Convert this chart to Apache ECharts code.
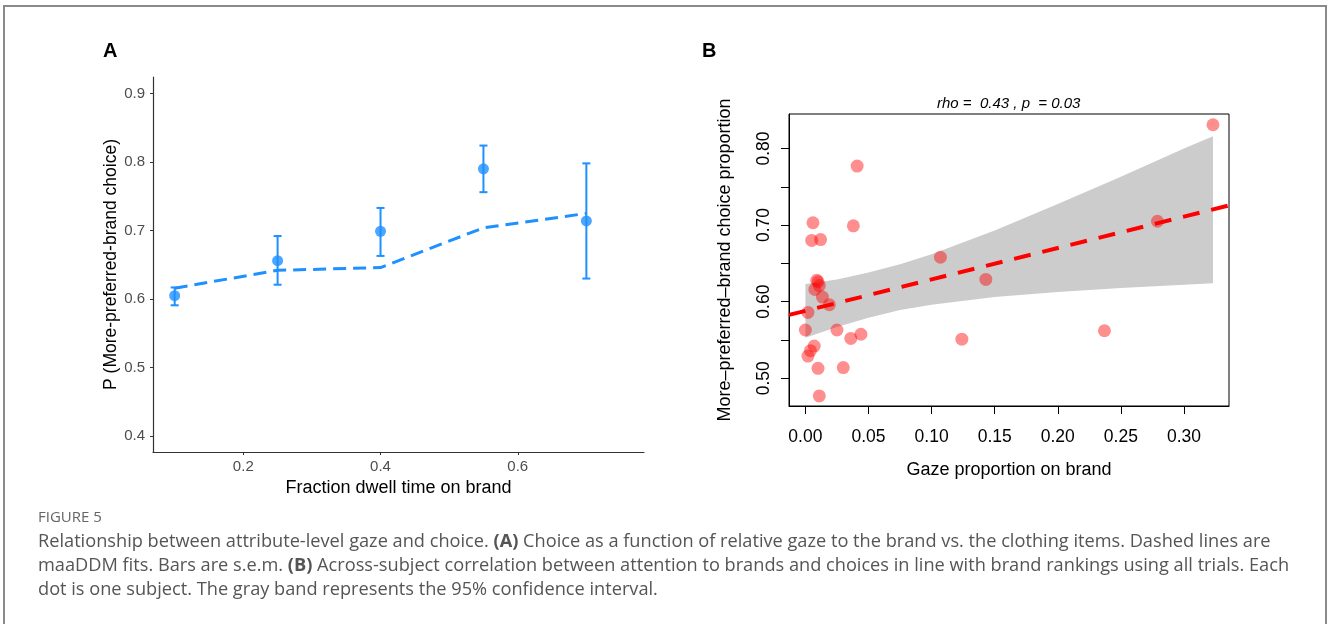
<!DOCTYPE html>
<html>
<head>
<meta charset="utf-8">
<script src="https://cdn.jsdelivr.net/npm/echarts@6/dist/echarts.min.js"></script>
<style>
  html, body { margin: 0; padding: 0; background: #fff; }
  #chart { width: 1328px; height: 624px; }
</style>
</head>
<body>
<div id="chart"></div>
<script>
// ---- Panel A: choice probability by fraction of dwell time on brand ----
const dwellBins   = [0.10, 0.25, 0.40, 0.55, 0.70];
const choiceMean  = [0.605, 0.656, 0.699, 0.790, 0.714];
const choiceLow   = [0.591, 0.621, 0.663, 0.756, 0.630];
const choiceHigh  = [0.617, 0.692, 0.733, 0.824, 0.798];
const modelFit    = [0.616, 0.642, 0.646, 0.704, 0.725];
const ticksAx     = [0.2, 0.4, 0.6];
const ticksAy     = [0.4, 0.5, 0.6, 0.7, 0.8, 0.9];

// ---- Panel B: per-subject gaze proportion vs. choice proportion ----
const gazeProp = [0.041, 0.006, 0.005, 0.012, 0.038, 0.107, 0.143, 0.009, 0.010, 0.011,
                  0.0075, 0.0135, 0.019, 0.002, 0.000, 0.025, 0.036, 0.044, 0.007, 0.004,
                  0.002, 0.010, 0.030, 0.011, 0.124, 0.323, 0.279, 0.237];
const choiceProp = [0.777, 0.703, 0.680, 0.681, 0.699, 0.658, 0.629, 0.628, 0.626, 0.621,
                    0.616, 0.606, 0.596, 0.586, 0.563, 0.563, 0.552, 0.5575, 0.542, 0.536,
                    0.529, 0.513, 0.514, 0.477, 0.551, 0.831, 0.705, 0.562];
// regression line across the plotting region
const fitX = [-0.013, 0.3357];
const fitY = [0.5827, 0.7256];
// 95% confidence band of the regression
const bandX    = [0, 0.025, 0.05, 0.075, 0.1, 0.15, 0.2, 0.25, 0.3, 0.323];
const bandLow  = [0.553, 0.567, 0.579, 0.589, 0.596, 0.606, 0.6125, 0.618, 0.622, 0.624];
const bandHigh = [0.623, 0.629, 0.638, 0.649, 0.662, 0.693, 0.7275, 0.763, 0.800, 0.816];
const ticksBx     = [0, 0.05, 0.10, 0.15, 0.20, 0.25, 0.30];
const ticksBy     = [0.50, 0.55, 0.60, 0.65, 0.70, 0.75, 0.80];
const labelsBy    = [0.50, 0.60, 0.70, 0.80];

const BLUE = '#1E90FF';
const SANS = '"Liberation Sans", Arial, Helvetica, sans-serif';
const CAPTION_FONT = '"Open Sans", Lato, sans-serif';
const CAPTION_SIZE = 18.2;

const chart = echarts.init(document.getElementById('chart'), null, { renderer: 'canvas' });

const errorData = dwellBins.map((x, i) => [x, choiceLow[i], choiceHigh[i]]);
const bandData = bandX.map((x, i) => [x, bandLow[i], bandHigh[i]]);

const captionRich = {
  n: { fontFamily: CAPTION_FONT, fontSize: CAPTION_SIZE, color: '#555' },
  b: { fontFamily: CAPTION_FONT, fontSize: CAPTION_SIZE, fontWeight: 'bold', color: '#555' }
};

function captionLine(text, y) {
  return {
    type: 'text', left: 38, top: y,
    style: { text: text, rich: captionRich, fontFamily: CAPTION_FONT, fontSize: CAPTION_SIZE, fill: '#555' }
  };
}

const option = {
  animation: false,
  backgroundColor: '#fff',
  grid: [
    { left: 153, top: 77, width: 491, height: 375, containLabel: false },
    { left: 789, top: 114, width: 440, height: 292, containLabel: false,
      show: true, borderColor: '#000', borderWidth: 1 }
  ],
  xAxis: [
    {
      gridIndex: 0, type: 'value', min: 0.0684, max: 0.784,
      splitLine: { show: false },
      axisLine: { show: true, lineStyle: { color: '#333', width: 1.2 } },
      axisTick: { show: true, customValues: ticksAx, length: 3, lineStyle: { color: '#333' } },
      axisLabel: { customValues: ticksAx, fontFamily: SANS, fontSize: 15, color: '#4D4D4D', margin: 7,
                   formatter: v => v.toFixed(1) },
      name: 'Fraction dwell time on brand', nameLocation: 'middle', nameGap: 23,
      nameTextStyle: { fontFamily: SANS, fontSize: 18, color: '#000' }
    },
    {
      gridIndex: 1, type: 'value', min: -0.013, max: 0.3357,
      splitLine: { show: false },
      axisLine: { show: true, onZero: false, lineStyle: { color: '#000', width: 1 } },
      axisTick: { show: true, customValues: ticksBx, length: 8, lineStyle: { color: '#000' } },
      axisLabel: { customValues: ticksBx, fontFamily: SANS, fontSize: 17.5, color: '#000', margin: 22,
                   formatter: v => v.toFixed(2) },
      name: 'Gaze proportion on brand', nameLocation: 'middle', nameGap: 55,
      nameTextStyle: { fontFamily: SANS, fontSize: 18, color: '#000' }
    }
  ],
  yAxis: [
    {
      gridIndex: 0, type: 'value', min: 0.377, max: 0.924,
      splitLine: { show: false },
      axisLine: { show: true, lineStyle: { color: '#333', width: 1.2 } },
      axisTick: { show: true, customValues: ticksAy, length: 3, lineStyle: { color: '#333' } },
      axisLabel: { customValues: ticksAy, fontFamily: SANS, fontSize: 15, color: '#4D4D4D', margin: 8,
                   formatter: v => v.toFixed(1) },
      name: 'P (More-preferred-brand choice)', nameLocation: 'middle', nameGap: 31,
      nameTextStyle: { fontFamily: SANS, fontSize: 17.5, color: '#000' }
    },
    {
      gridIndex: 1, type: 'value', min: 0.4638, max: 0.845,
      splitLine: { show: false },
      axisLine: { show: true, onZero: false, lineStyle: { color: '#000', width: 1 } },
      axisTick: { show: true, customValues: ticksBy, length: 8, lineStyle: { color: '#000' } },
      axisLabel: { customValues: labelsBy, rotate: 90, fontFamily: SANS, fontSize: 17.5, color: '#000', margin: 16,
                   formatter: v => v.toFixed(2) },
      name: 'More\u2013preferred\u2013brand choice proportion', nameLocation: 'middle', nameGap: 55,
      nameTextStyle: { fontFamily: SANS, fontSize: 18, color: '#000' }
    }
  ],
  series: [
    // Panel A: model fit (dashed)
    {
      type: 'line', xAxisIndex: 0, yAxisIndex: 0,
      data: dwellBins.map((x, i) => [x, modelFit[i]]),
      showSymbol: false, symbol: 'none',
      lineStyle: { color: BLUE, width: 3, type: [13, 7] },
      z: 2
    },
    // Panel A: s.e.m. error bars
    {
      type: 'custom', xAxisIndex: 0, yAxisIndex: 0,
      data: errorData,
      encode: { x: 0, y: [1, 2] },
      renderItem: function (params, api) {
        const x = api.value(0);
        const lo = api.coord([x, api.value(1)]);
        const hi = api.coord([x, api.value(2)]);
        const cap = 4;
        const style = { stroke: BLUE, lineWidth: 2, fill: null };
        return {
          type: 'group',
          children: [
            { type: 'line', shape: { x1: lo[0], y1: lo[1], x2: hi[0], y2: hi[1] }, style: style },
            { type: 'line', shape: { x1: lo[0] - cap, y1: lo[1], x2: lo[0] + cap, y2: lo[1] }, style: style },
            { type: 'line', shape: { x1: hi[0] - cap, y1: hi[1], x2: hi[0] + cap, y2: hi[1] }, style: style }
          ]
        };
      },
      z: 3
    },
    // Panel A: observed means
    {
      type: 'scatter', xAxisIndex: 0, yAxisIndex: 0,
      data: dwellBins.map((x, i) => [x, choiceMean[i]]),
      symbol: 'circle', symbolSize: 11,
      itemStyle: { color: BLUE },
      z: 4
    },
    // Panel B: confidence band
    {
      type: 'custom', xAxisIndex: 1, yAxisIndex: 1,
      data: bandData,
      encode: { x: 0, y: [1, 2] },
      renderItem: function (params, api) {
        if (params.dataIndex !== 0) return null;
        const upper = bandData.map(d => api.coord([d[0], d[2]]));
        const lower = bandData.map(d => api.coord([d[0], d[1]])).reverse();
        return {
          type: 'polygon',
          shape: { points: upper.concat(lower) },
          style: { fill: '#CCCCCC', stroke: null }
        };
      },
      z: 1
    },
    // Panel B: regression line
    {
      type: 'line', xAxisIndex: 1, yAxisIndex: 1,
      data: fitX.map((x, i) => [x, fitY[i]]),
      showSymbol: false, symbol: 'none',
      lineStyle: { color: '#FF0000', width: 4, type: [17, 12] },
      clip: true,
      z: 2
    },
    // Panel B: subjects
    {
      type: 'scatter', xAxisIndex: 1, yAxisIndex: 1,
      data: gazeProp.map((x, i) => [x, choiceProp[i]]),
      symbol: 'circle', symbolSize: 13,
      itemStyle: { color: 'rgba(255, 0, 0, 0.55)' },
      z: 3
    }
  ],
  graphic: [
    // figure frame
    { type: 'rect', shape: { x: 4, y: 6, width: 1322, height: 640 },
      style: { fill: null, stroke: '#8A8A8A', lineWidth: 2 }, silent: true },
    // panel letters
    { type: 'text', left: 103, top: 41, style: { text: 'A', fontFamily: SANS, fontSize: 20, fontWeight: 'bold', fill: '#000' } },
    { type: 'text', left: 702, top: 41, style: { text: 'B', fontFamily: SANS, fontSize: 20, fontWeight: 'bold', fill: '#000' } },
    // correlation statistic
    { type: 'text', left: 937, top: 96,
      style: { text: 'rho =  0.43 , p  = 0.03', fontFamily: SANS, fontSize: 15, fontStyle: 'italic', fill: '#000' } },
    // caption
    { type: 'text', left: 38, top: 510,
      style: { text: 'FIGURE 5', fontFamily: CAPTION_FONT, fontSize: 15, fill: '#666' } },
    captionLine('{n|Relationship between attribute-level gaze and choice. }{b|(A)}{n| Choice as a function of relative gaze to the brand vs. the clothing items. Dashed lines are}', 533),
    captionLine('{n|maaDDM fits. Bars are s.e.m. }{b|(B)}{n| Across-subject correlation between attention to brands and choices in line with brand rankings using all trials. Each}', 557),
    captionLine('{n|dot is one subject. The gray band represents the 95% confidence interval.}', 581)
  ]
};

chart.setOption(option);
</script>
</body>
</html>
